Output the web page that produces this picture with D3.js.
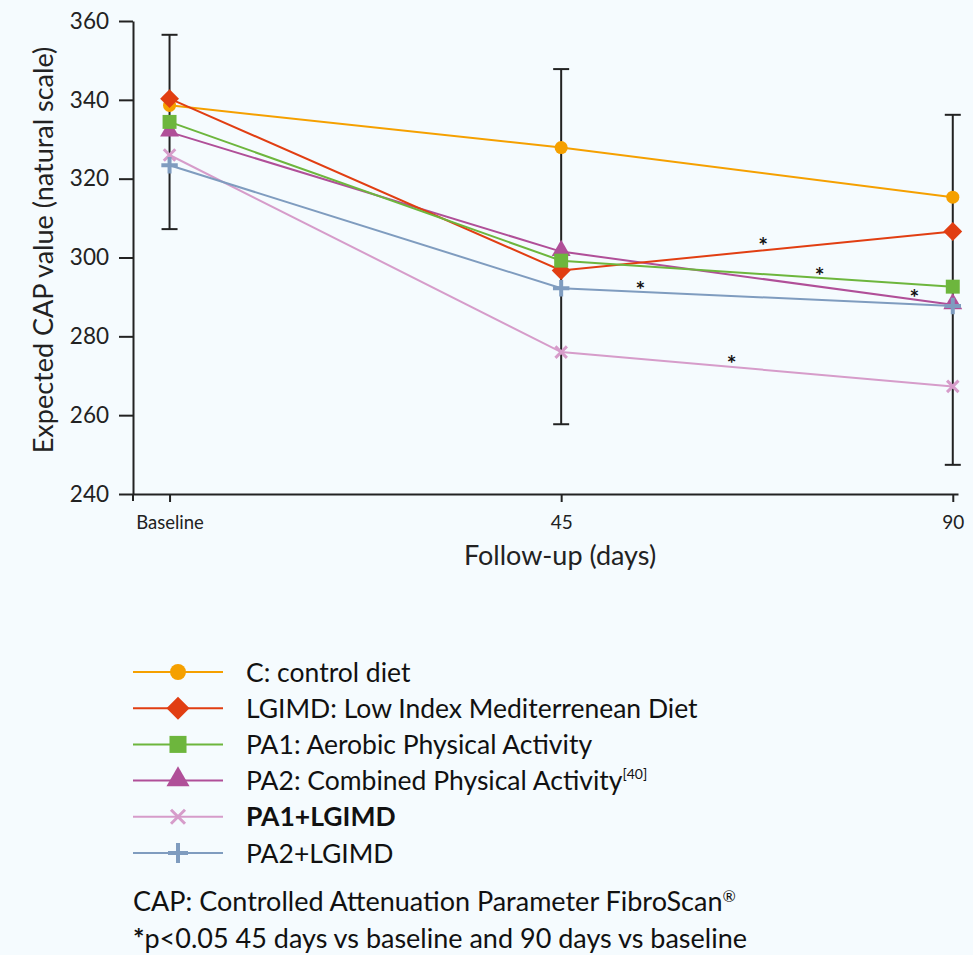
<!DOCTYPE html>
<html>
<head>
<meta charset="utf-8">
<script src="https://cdn.jsdelivr.net/npm/d3@7"></script>
<style>
  body { margin: 0; background: #f5fbfe; }
  svg { display: block; font-family: Lato, "Noto Sans", sans-serif; }
  .axis { font-family: Lato, "Noto Sans", sans-serif; }
  .axis path, .axis line { stroke: #222; stroke-width: 2; }
  .axis text { fill: #222; }
</style>
</head>
<body>
<script>
// follow-up points (days) and their tick labels
var days = [0, 45, 90];
var dayLabels = ['Baseline', '45', '90'];
var yTicks = [240, 260, 280, 300, 320, 340, 360];

// expected CAP values per group
var names = ['C: control diet', 'LGIMD: Low Index Mediterrenean Diet', 'PA1: Aerobic Physical Activity',
             'PA2: Combined Physical Activity', 'PA1+LGIMD', 'PA2+LGIMD'];
var control = [338.6, 327.9, 315.3];
var lgimd   = [340.3, 296.7, 306.6];
var pa1     = [334.4, 299.2, 292.6];
var pa2     = [331.8, 301.5, 288.0];
var pa1lg   = [326.0, 276.0, 267.3];
var pa2lg   = [323.4, 292.2, 287.7];

// error bar range at each follow-up
var errHigh = [356.5, 347.8, 336.2];
var errLow  = [307.2, 257.7, 247.4];

// significance stars: [day, value]
var stars = [[68.2, 304.2], [74.7, 296.6], [54.1, 293.1], [85.6, 291.0], [64.6, 274.3]];

var colors = ['#f5a000', '#e13e12', '#6db63d', '#b04f98', '#d69cca', '#7f9cbf'];
var shapes = ['circle', 'diamond', 'square', 'triangle', 'times', 'plus'];
var series = [control, lgimd, pa1, pa2, pa1lg, pa2lg];

var width = 973, height = 955;

var svg = d3.select('body').append('svg')
    .attr('width', width)
    .attr('height', height);

var x = d3.scaleLinear().domain([-4.2, 90.6]).range([133, 958]);
var y = d3.scaleLinear().domain([240, 360]).range([494, 21]);

// y axis
var yAxis = d3.axisLeft(y).tickValues(yTicks).tickSize(14).tickSizeOuter(0).tickPadding(10);
var gy = svg.append('g').attr('class', 'axis').attr('transform', 'translate(133,0)').call(yAxis);
gy.attr('font-family', null);
gy.selectAll('text').style('font-size', '22.5px');
gy.append('line').attr('x1', 0).attr('x2', 0).attr('y1', y(240)).attr('y2', y(240) + 7);

// x axis
var xAxis = d3.axisBottom(x).tickValues(days).tickSize(8).tickSizeOuter(0).tickPadding(14)
    .tickFormat(function(d, i) { return dayLabels[i]; });
var gx = svg.append('g').attr('class', 'axis').attr('transform', 'translate(0,' + y(240) + ')').call(xAxis);
gx.attr('font-family', null);
gx.selectAll('text').style('font-size', function(d) { return d === 0 ? '18.5px' : '19px'; });

svg.append('text')
    .attr('transform', 'translate(53,250) rotate(-90)')
    .attr('text-anchor', 'middle')
    .style('font-size', '27px').style('fill', '#222')
    .text('Expected CAP value (natural scale)');

svg.append('text')
    .attr('x', 560).attr('y', 565)
    .attr('text-anchor', 'middle')
    .style('font-size', '27px').style('fill', '#222')
    .text('Follow-up (days)');

// error bars
var eb = svg.append('g').attr('stroke', '#222').attr('stroke-width', 2);
days.forEach(function(d, i) {
  eb.append('line').attr('x1', x(d)).attr('x2', x(d)).attr('y1', y(errHigh[i])).attr('y2', y(errLow[i]));
  eb.append('line').attr('x1', x(d) - 8).attr('x2', x(d) + 8).attr('y1', y(errHigh[i])).attr('y2', y(errHigh[i]));
  eb.append('line').attr('x1', x(d) - 8).attr('x2', x(d) + 8).attr('y1', y(errLow[i])).attr('y2', y(errLow[i]));
});

function marker(g, shape, color, k) {
  if (shape === 'circle') {
    g.append('path').attr('d', d3.symbol(d3.symbolCircle, 200 * k * k)()).attr('fill', color);
  } else if (shape === 'diamond') {
    g.append('path').attr('d', d3.symbol(d3.symbolSquare, 265 * k * k)()).attr('transform', 'rotate(45)').attr('fill', color);
  } else if (shape === 'square') {
    g.append('path').attr('d', d3.symbol(d3.symbolSquare, 290 * k * k)()).attr('fill', color);
  } else if (shape === 'triangle') {
    g.append('path').attr('d', d3.symbol(d3.symbolTriangle, 230 * k * k)()).attr('transform', 'translate(0,-1)').attr('fill', color);
  } else if (shape === 'times') {
    var a = 7 * k;
    g.append('path').attr('d', 'M' + -a + ',' + -a + 'L' + a + ',' + a + 'M' + a + ',' + -a + 'L' + -a + ',' + a)
      .attr('stroke', color).attr('stroke-width', 3);
  } else {
    var b = 10 * k;
    g.append('path').attr('d', 'M' + -b + ',0H' + b + 'M0,' + -b + 'V' + b)
      .attr('stroke', color).attr('stroke-width', 4);
  }
}

var line = d3.line().x(function(d, i) { return x(days[i]); }).y(function(d) { return y(d); });

var order = [0, 3, 1, 2, 4, 5];
order.forEach(function(s) {
  svg.append('path').datum(series[s])
    .attr('d', line).attr('fill', 'none')
    .attr('stroke', colors[s]).attr('stroke-width', 2);
});
order.forEach(function(s) {
  series[s].forEach(function(v, i) {
    var g = svg.append('g').attr('transform', 'translate(' + x(days[i]) + ',' + y(v) + ')');
    marker(g, shapes[s], colors[s], 0.82);
  });
});

// stars
svg.selectAll('.star').data(stars).enter().append('text')
  .attr('class', 'star')
  .attr('x', function(d) { return x(d[0]); })
  .attr('y', function(d) { return y(d[1]) + 13; })
  .attr('text-anchor', 'middle')
  .style('font-size', '23px').style('font-weight', 'bold').style('fill', '#111')
  .text('*');

// legend
var leg = svg.append('g');
names.forEach(function(n, i) {
  var cy = 672 + i * 36.2;
  leg.append('line').attr('x1', 133).attr('x2', 223).attr('y1', cy).attr('y2', cy)
    .attr('stroke', colors[i]).attr('stroke-width', 2);
  var g = leg.append('g').attr('transform', 'translate(178,' + cy + ')');
  marker(g, shapes[i], colors[i], 1);
  var t = leg.append('text').attr('x', 246).attr('y', cy + 9.5)
    .style('font-size', '26.5px').style('fill', '#111')
    .style('font-weight', i === 4 ? 'bold' : 'normal')
    .text(n);
  if (i === 3) {
    t.append('tspan').attr('dy', -11).style('font-size', '14px').text('[40]');
  }
});

svg.append('text').attr('x', 133).attr('y', 911)
  .style('font-size', '27px').style('fill', '#111')
  .text('CAP: Controlled Attenuation Parameter FibroScan')
  .append('tspan').attr('dy', -9).style('font-size', '16px').text('®');

var fn = svg.append('text').attr('x', 133).attr('y', 948)
  .style('font-size', '27px').style('fill', '#111');
fn.append('tspan').style('font-weight', 'bold').text('*');
fn.append('tspan').text('p<0.05 45 days vs baseline and 90 days vs baseline');
</script>
</body>
</html>
